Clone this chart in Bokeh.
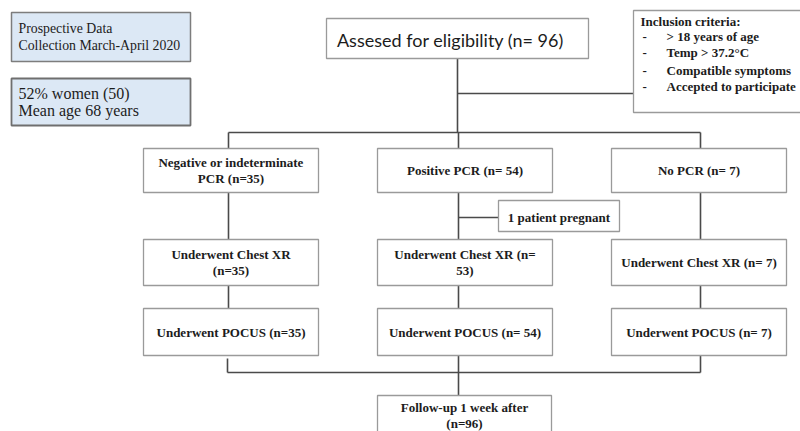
from bokeh.plotting import figure
from bokeh.models import Range1d
from bokeh.core.properties import value
from bokeh.embed import file_html
from bokeh.resources import INLINE

# ---------------- data ----------------
study_info = ["Prospective Data", "Collection March-April 2020"]
women_pct = 52
women_n = 50
mean_age = 68
assessed_n = 96
inclusion_title = "Inclusion criteria:"
inclusion_items = ["> 18 years of age", "Temp > 37.2\u00b0C", "Compatible symptoms", "Accepted to participate"]
pcr_labels = [["Negative or indeterminate", "PCR (n=35)"], ["Positive PCR (n= 54)"], ["No PCR (n= 7)"]]
xr_labels = [["Underwent Chest XR", "(n=35)"], ["Underwent Chest XR (n=", "53)"], ["Underwent Chest XR (n= 7)"]]
pocus_labels = [["Underwent POCUS (n=35)"], ["Underwent POCUS (n= 54)"], ["Underwent POCUS (n= 7)"]]
excluded_label = "1 patient pregnant"
followup_labels = ["Follow-up 1 week after", "(n=96)"]

# ---------------- layout (page pixels) ----------------
W, H = 800, 431
p = figure(width=W, height=H, output_backend="svg", toolbar_location=None,
           x_range=Range1d(0, W), y_range=Range1d(H, 0),
           min_border=0, outline_line_color=None)
p.axis.visible = False
p.grid.visible = False
p.background_fill_color = "white"

LINE = "#4a4a4a"
BORDER = "#9a9a9a"
TXT = "#1c1c1c"
SERIF = value("Liberation Serif")

def box(l, r, t, b, fill="white", border=BORDER, lw=1.3):
    p.quad(left=[l], right=[r], top=[t], bottom=[b], fill_color=fill,
           line_color=border, line_width=lw)

def seg(x0, y0, x1, y1):
    p.segment(x0=[x0], y0=[y0], x1=[x1], y1=[y1], line_color=LINE, line_width=1.6)

def txt(x, y, s, size="13px", bold=True, align="center", font=SERIF):
    p.text(x=[x], y=[y], text=[s], text_align=align, text_baseline="middle",
           text_font=font, text_font_size=size,
           text_font_style="bold" if bold else "normal", text_color=TXT)

# connectors
seg(457, 58, 457, 132)
seg(457, 93, 633, 93)
col_l = [143, 377, 611]
BW = 175
col_c = [228, 458, 700]
rows = [(148, 192), (239, 285), (308, 355)]
seg(col_c[0], 132, col_c[2], 132)
for c in col_c:
    seg(c, 132, c, rows[0][0])
    seg(c, rows[0][1], c, rows[1][0])
    seg(c, rows[1][1], c, rows[2][0])
seg(col_c[0] - 1, 358, col_c[0] - 1, 372)
seg(col_c[2], rows[2][1], col_c[2], 372)
seg(col_c[0] - 1, 372, col_c[2], 372)
seg(col_c[1], rows[2][1], col_c[1], 395)
seg(col_c[1], 217, 498, 217)

# info boxes
BLUE = "#dce8f5"
box(11, 190, 12, 61, fill=BLUE, border="#7d7d7d", lw=1.5)
box(11, 190, 78, 125, fill=BLUE, border="#6f6f6f", lw=1.8)
for i, s in enumerate(study_info):
    txt(18, 28 + 17 * i, s, size="13.8px", bold=False, align="left")
txt(18, 93, f"{women_pct}% women ({women_n})", size="16px", bold=False, align="left")
txt(18, 110, f"Mean age {mean_age} years", size="16px", bold=False, align="left")

# assessed
box(326, 588, 18, 58)
txt(450, 39, f"Assesed for eligibility (n= {assessed_n})", size="18px", bold=False,
    font=value("Lato"))

# inclusion box
box(633, 812, 10, 112)
txt(640, 21, inclusion_title, size="13px", align="left")
inc_y = [36, 52, 70, 86]
for yy, s in zip(inc_y, inclusion_items):
    txt(642, yy, "-", size="13px", align="left")
    txt(666, yy, s, size="13px", align="left")

# flow rows
for labels, (t, b) in zip([pcr_labels, xr_labels, pocus_labels], rows):
    for l, c, lines in zip(col_l, col_c, labels):
        box(l, l + BW, t, b)
        mid = (t + b) / 2
        n = len(lines)
        for k, s in enumerate(lines):
            txt(l + BW / 2, mid + (k - (n - 1) / 2) * 16, s, size="13px")

# excluded
box(498, 619, 200, 231)
txt(558.5, 217, excluded_label, size="13px")

# follow-up
box(377, 551, 395, 440)
txt(464, 407, followup_labels[0], size="13px")
txt(464, 423, followup_labels[1], size="13px")

open("out.html", "w").write(file_html(p, INLINE))
